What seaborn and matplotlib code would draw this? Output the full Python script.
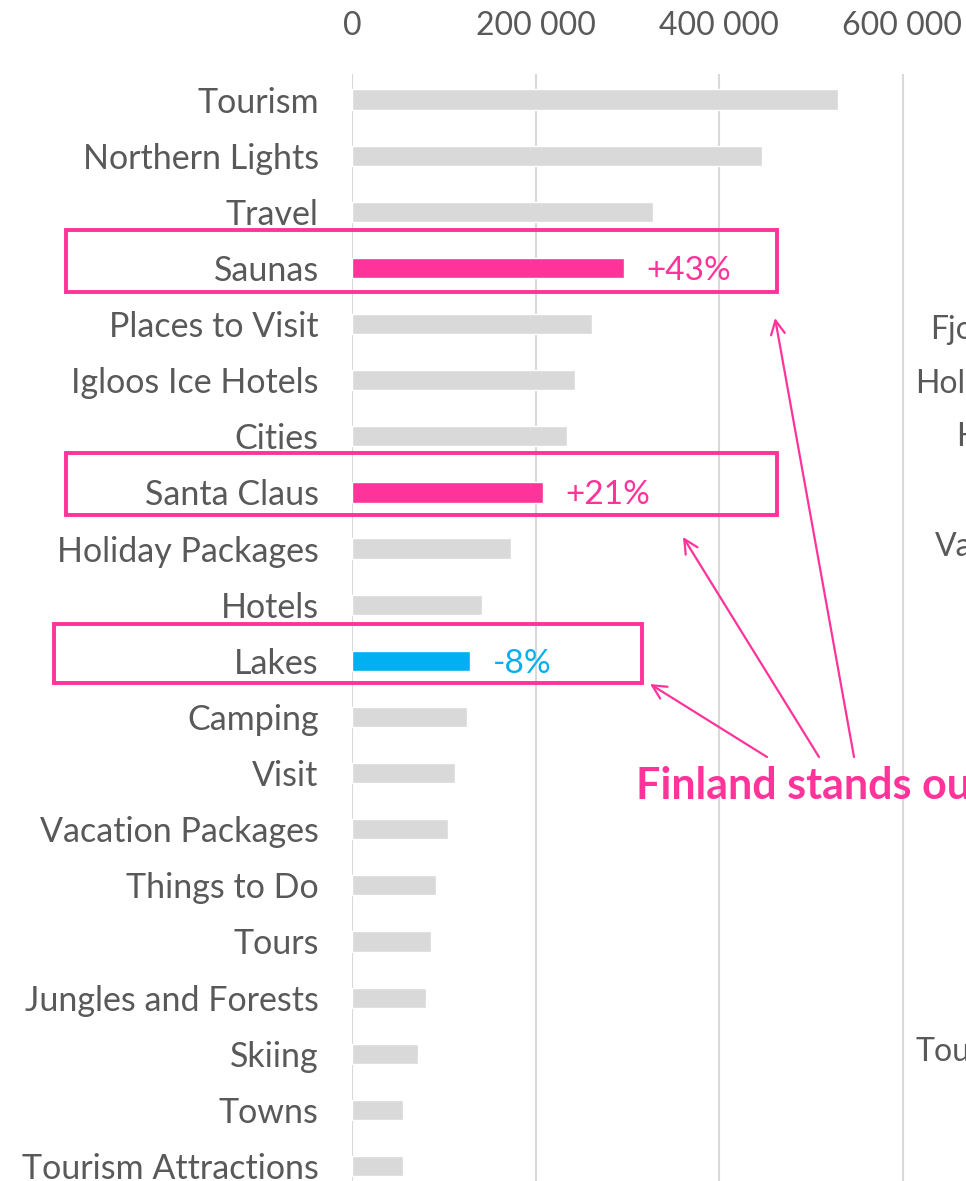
import matplotlib
matplotlib.use("Agg")
import matplotlib.pyplot as plt
import seaborn as sns
import pandas as pd
from matplotlib.patches import Rectangle, FancyArrowPatch

# ---- data ----
categories = ["Tourism", "Northern Lights", "Travel", "Saunas", "Places to Visit",
              "Igloos Ice Hotels", "Cities", "Santa Claus", "Holiday Packages", "Hotels",
              "Lakes", "Camping", "Visit", "Vacation Packages", "Things to Do", "Tours",
              "Jungles and Forests", "Skiing", "Towns", "Tourism Attractions"]
values = [530000, 447000, 328000, 297000, 262000, 243000, 234000, 208000, 173000, 142000,
          129000, 125000, 112000, 105000, 92000, 86000, 81000, 72000, 56000, 56000]
highlights = {"Saunas": "+43%", "Santa Claus": "+21%", "Lakes": "-8%"}
x_ticks = [0, 200000, 400000, 600000]
x_tick_labels = ["0", "200 000", "400 000", "600 000"]
side_labels = ["Fjo", "Hol", "H", "Va", "Tou"]
callout = "Finland stands ou"

PINK = "#FF3399"
BLUE = "#00B0F0"
GREY = "#D9D9D9"
TXT = "#595959"

sns.set_theme(style="white")
plt.rcParams["font.family"] = ["Lato", "DejaVu Sans"]

W, H = 966, 1181
fig = plt.figure(figsize=(W / 100, H / 100), dpi=100)

def fx(x):
    return x / W

def fy(y):
    return 1 - y / H

ax_top = 74
ax = fig.add_axes([fx(352), 0, (W - 352) / W, fy(ax_top)])

df = pd.DataFrame({"category": categories, "value": values})
colors = {c: GREY for c in categories}
colors["Saunas"] = PINK
colors["Santa Claus"] = PINK
colors["Lakes"] = BLUE

sns.barplot(data=df, x="value", y="category", hue="category", palette=colors,
            order=categories, width=0.36, legend=False, ax=ax, saturation=1)

px_per_unit = 0.9175 / 1000
ax.set_xlim(0, (W - 352) / px_per_unit)
row = 56.13
ax.set_ylim(19 + (H - 1166) / row, -(99.5 - ax_top) / row)

ax.set_xticks(x_ticks)
ax.set_xticklabels(x_tick_labels)
ax.xaxis.tick_top()
ax.tick_params(axis="x", length=0, pad=24, labelsize=23, labelcolor=TXT)
ax.tick_params(axis="y", length=0, pad=24, labelsize=24.5, labelcolor=TXT)
for lab in ax.get_yticklabels():
    lab.set_va("center_baseline")
ax.set_xlabel("")
ax.set_ylabel("")
for s in ax.spines.values():
    s.set_visible(False)
ax.grid(axis="x", color=GREY, linewidth=1.5)
ax.set_axisbelow(True)

# value change labels
for i, c in enumerate(categories):
    if c in highlights:
        col = BLUE if c == "Lakes" else PINK
        ax.annotate(highlights[c], xy=(values[i], i), xytext=(16, 0),
                    textcoords="offset points", va="center_baseline", ha="left",
                    fontsize=24, color=col)

# highlight boxes (pixel coordinates of the reference layout)
boxes = [(66, 230, 777, 292), (66, 453, 777, 515), (54, 624, 642, 683)]
for x0, y0, x1, y1 in boxes:
    fig.add_artist(Rectangle((fx(x0), fy(y1)), fx(x1) - fx(x0), fy(y0) - fy(y1),
                             transform=fig.transFigure, fill=False,
                             edgecolor=PINK, linewidth=2.8))

# arrows
arrows = [((854, 757), (775, 318)), ((819, 757), (683, 537)), ((767, 757), (650, 684))]
for (tx, ty), (hx, hy) in arrows:
    fig.add_artist(FancyArrowPatch((fx(tx), fy(ty)), (fx(hx), fy(hy)),
                                   transform=fig.transFigure,
                                   arrowstyle="->,head_length=10,head_width=5",
                                   color=PINK, linewidth=1.6, mutation_scale=1,
                                   shrinkA=0, shrinkB=0))

fig.text(fx(636), fy(786), callout, fontsize=31, fontweight="bold", color=PINK,
         ha="left", va="center")

# partially visible labels of the neighbouring chart
side_pos = [(930, 330), (915, 384), (956, 437), (935, 547), (915, 1052)]
for lab, (x, y) in zip(side_labels, side_pos):
    fig.text(fx(x), fy(y), lab, fontsize=23, color=TXT, ha="left", va="center")

fig.savefig("out.png", dpi=100)
